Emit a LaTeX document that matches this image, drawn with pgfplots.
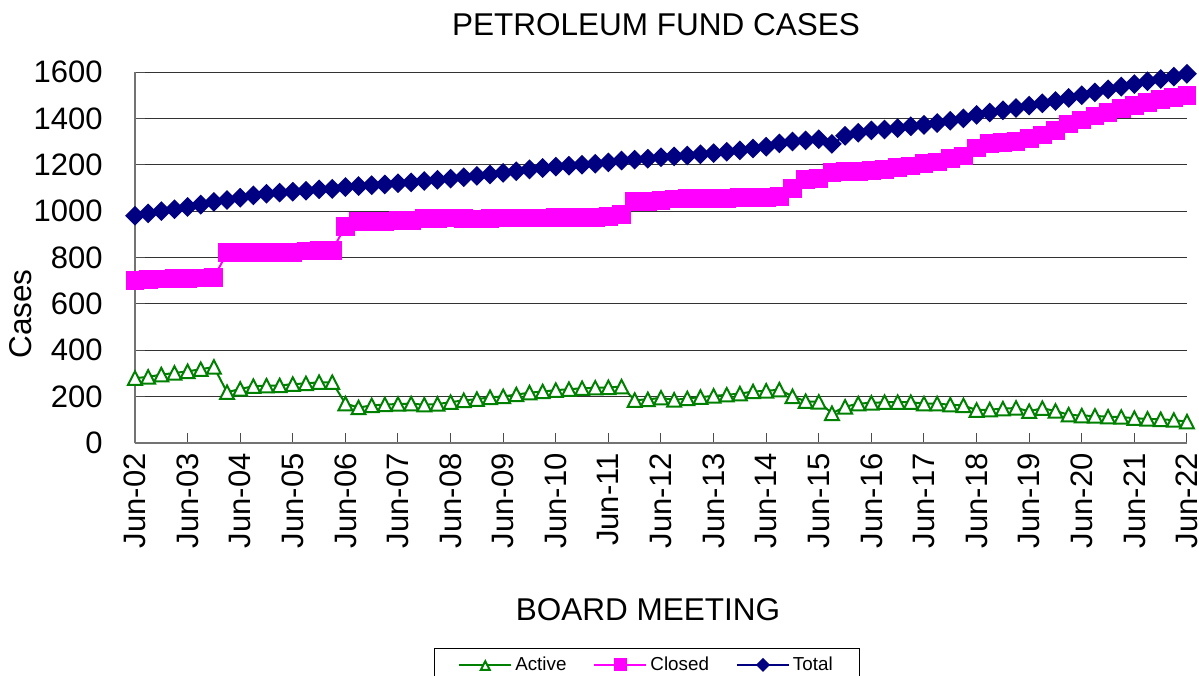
\documentclass[border=0pt]{standalone}
\usepackage{pgfplots}
\pgfplotsset{compat=1.18}
\usepackage{pgfplotstable}
\usepackage{fontspec}
\setmainfont{Liberation Sans}
\definecolor{cgreen}{RGB}{0,128,0}
\definecolor{cmag}{RGB}{255,0,255}
\definecolor{cnavy}{RGB}{0,0,128}
\pgfplotstableread{
q active closed total
0 280 702 980
1 285 705 990
2 295 707 1000
3 302 709 1008
4 309 710 1018
5 318 712 1028
6 328 714 1040
7 219 820 1048
8 233 820 1058
9 245 821 1068
10 247 821 1075
11 248 822 1080
12 254 823 1084
13 257 828 1088
14 262 830 1094
15 262 831 1096
16 170 935 1104
17 153 955 1108
18 162 956 1112
19 166 957 1115
20 168 958 1120
21 170 960 1124
22 165 968 1130
23 168 968 1135
24 176 970 1140
25 184 968 1146
26 189 966 1152
27 197 968 1158
28 201 970 1165
29 209 970 1172
30 217 970 1180
31 222 970 1186
32 228 971 1192
33 232 972 1196
34 236 972 1200
35 238 974 1204
36 240 978 1210
37 243 985 1218
38 185 1040 1222
39 188 1042 1226
40 195 1045 1232
41 186 1052 1236
42 192 1054 1240
43 198 1055 1245
44 203 1055 1250
45 208 1056 1256
46 213 1058 1262
47 222 1060 1270
48 225 1060 1278
49 230 1062 1292
50 201 1098 1300
51 180 1135 1305
52 177 1140 1310
53 128 1165 1290
54 156 1170 1325
55 170 1172 1338
56 173 1175 1348
57 176 1178 1352
58 176 1188 1358
59 176 1195 1366
60 170 1205 1372
61 170 1212 1380
62 165 1228 1390
63 162 1238 1400
64 142 1272 1415
65 144 1290 1425
66 148 1296 1435
67 151 1302 1445
68 137 1314 1455
69 150 1328 1465
70 138 1347 1475
71 122 1376 1488
72 118 1393 1500
73 117 1410 1512
74 113 1426 1525
75 112 1443 1537
76 107 1457 1548
77 104 1468 1560
78 102 1480 1570
79 99 1490 1580
80 92 1500 1592
}\data
\begin{document}
\begin{tikzpicture}
\begin{axis}[
  at={(0pt,0pt)}, anchor=south west,
  scale only axis, width=526pt, height=185.5pt,
  xmin=0, xmax=80, ymin=0, ymax=1600,
  axis lines=left,
  axis line style={-, black!55, line width=0.8pt},
  every outer x axis line/.append style={-},
  every outer y axis line/.append style={-},
  xtick={0,4,...,80},
  xticklabels={Jun-02,Jun-03,Jun-04,Jun-05,Jun-06,Jun-07,Jun-08,Jun-09,Jun-10,Jun-11,Jun-12,Jun-13,Jun-14,Jun-15,Jun-16,Jun-17,Jun-18,Jun-19,Jun-20,Jun-21,Jun-22},
  ytick={0,200,...,1600},
  tick align=inside,
  major tick length=5pt,
  tick style={black!70, line width=0.5pt},
  ymajorgrids,
  major grid style={black!80, line width=0.5pt},
  /pgf/number format/assume math mode=true,
  /pgf/number format/1000 sep={},
  xticklabel style={rotate=90, anchor=east, inner sep=0pt, font=\fontsize{15.5}{18}\selectfont},
  yticklabel style={anchor=east, inner sep=0pt, font=\fontsize{15.5}{18}\selectfont},
  xticklabel shift=5pt,
  yticklabel shift=16pt,
  every axis title shift=0pt,
  title={PETROLEUM FUND CASES},
  title style={at={(rel axis cs:0.4952,1.1267)}, anchor=center, inner sep=0pt, font=\fontsize{15.75}{18}\selectfont},
  xlabel={BOARD MEETING},
  xlabel style={at={(rel axis cs:0.4876,-0.450)}, anchor=center, inner sep=0pt, font=\fontsize{15.75}{18}\selectfont},
  ylabel={Cases},
  ylabel style={at={(rel axis cs:-0.1084,0.3477)}, anchor=center, rotate=0, inner sep=0pt, font=\fontsize{15.75}{18}\selectfont},
  clip=false,
  legend columns=3,
  legend style={at={(rel axis cs:0.4867,-0.5526)}, anchor=north, draw=black, line width=0.5pt,
    font=\fontsize{9.4}{11}\selectfont, inner xsep=12pt, inner ysep=2.5pt,
    /tikz/every even column/.append style={column sep=12pt},
    nodes={inner sep=1.5pt}},
  legend image code/.code={\draw[mark repeat=2, mark phase=2, #1] plot coordinates {(0pt,0pt) (13pt,0pt) (26pt,0pt)};},
  legend image post style={/tikz/every mark/.append style={scale=0.65}},
]
\addplot[cgreen, line width=1pt, mark=triangle*, mark size=4pt,
  mark options={solid, fill=white, line width=1pt, yshift=-1.1pt, yscale=1.12}]
  table[x=q, y=active] {\data};
\addlegendentry{Active}
\addplot[cmag, line width=1pt, mark=square*, mark size=4.2pt,
  mark options={solid, fill=cmag}]
  table[x=q, y=closed] {\data};
\addlegendentry{Closed}
\addplot[cnavy, line width=1pt, mark=square*, mark size=3pt,
  mark options={solid, fill=cnavy, rotate=45}]
  table[x=q, y=total] {\data};
\addlegendentry{Total}
\end{axis}
\pgfresetboundingbox
\path[use as bounding box] (-67.5pt,-116pt) rectangle (532pt,221.5pt);
\end{tikzpicture}
\end{document}
